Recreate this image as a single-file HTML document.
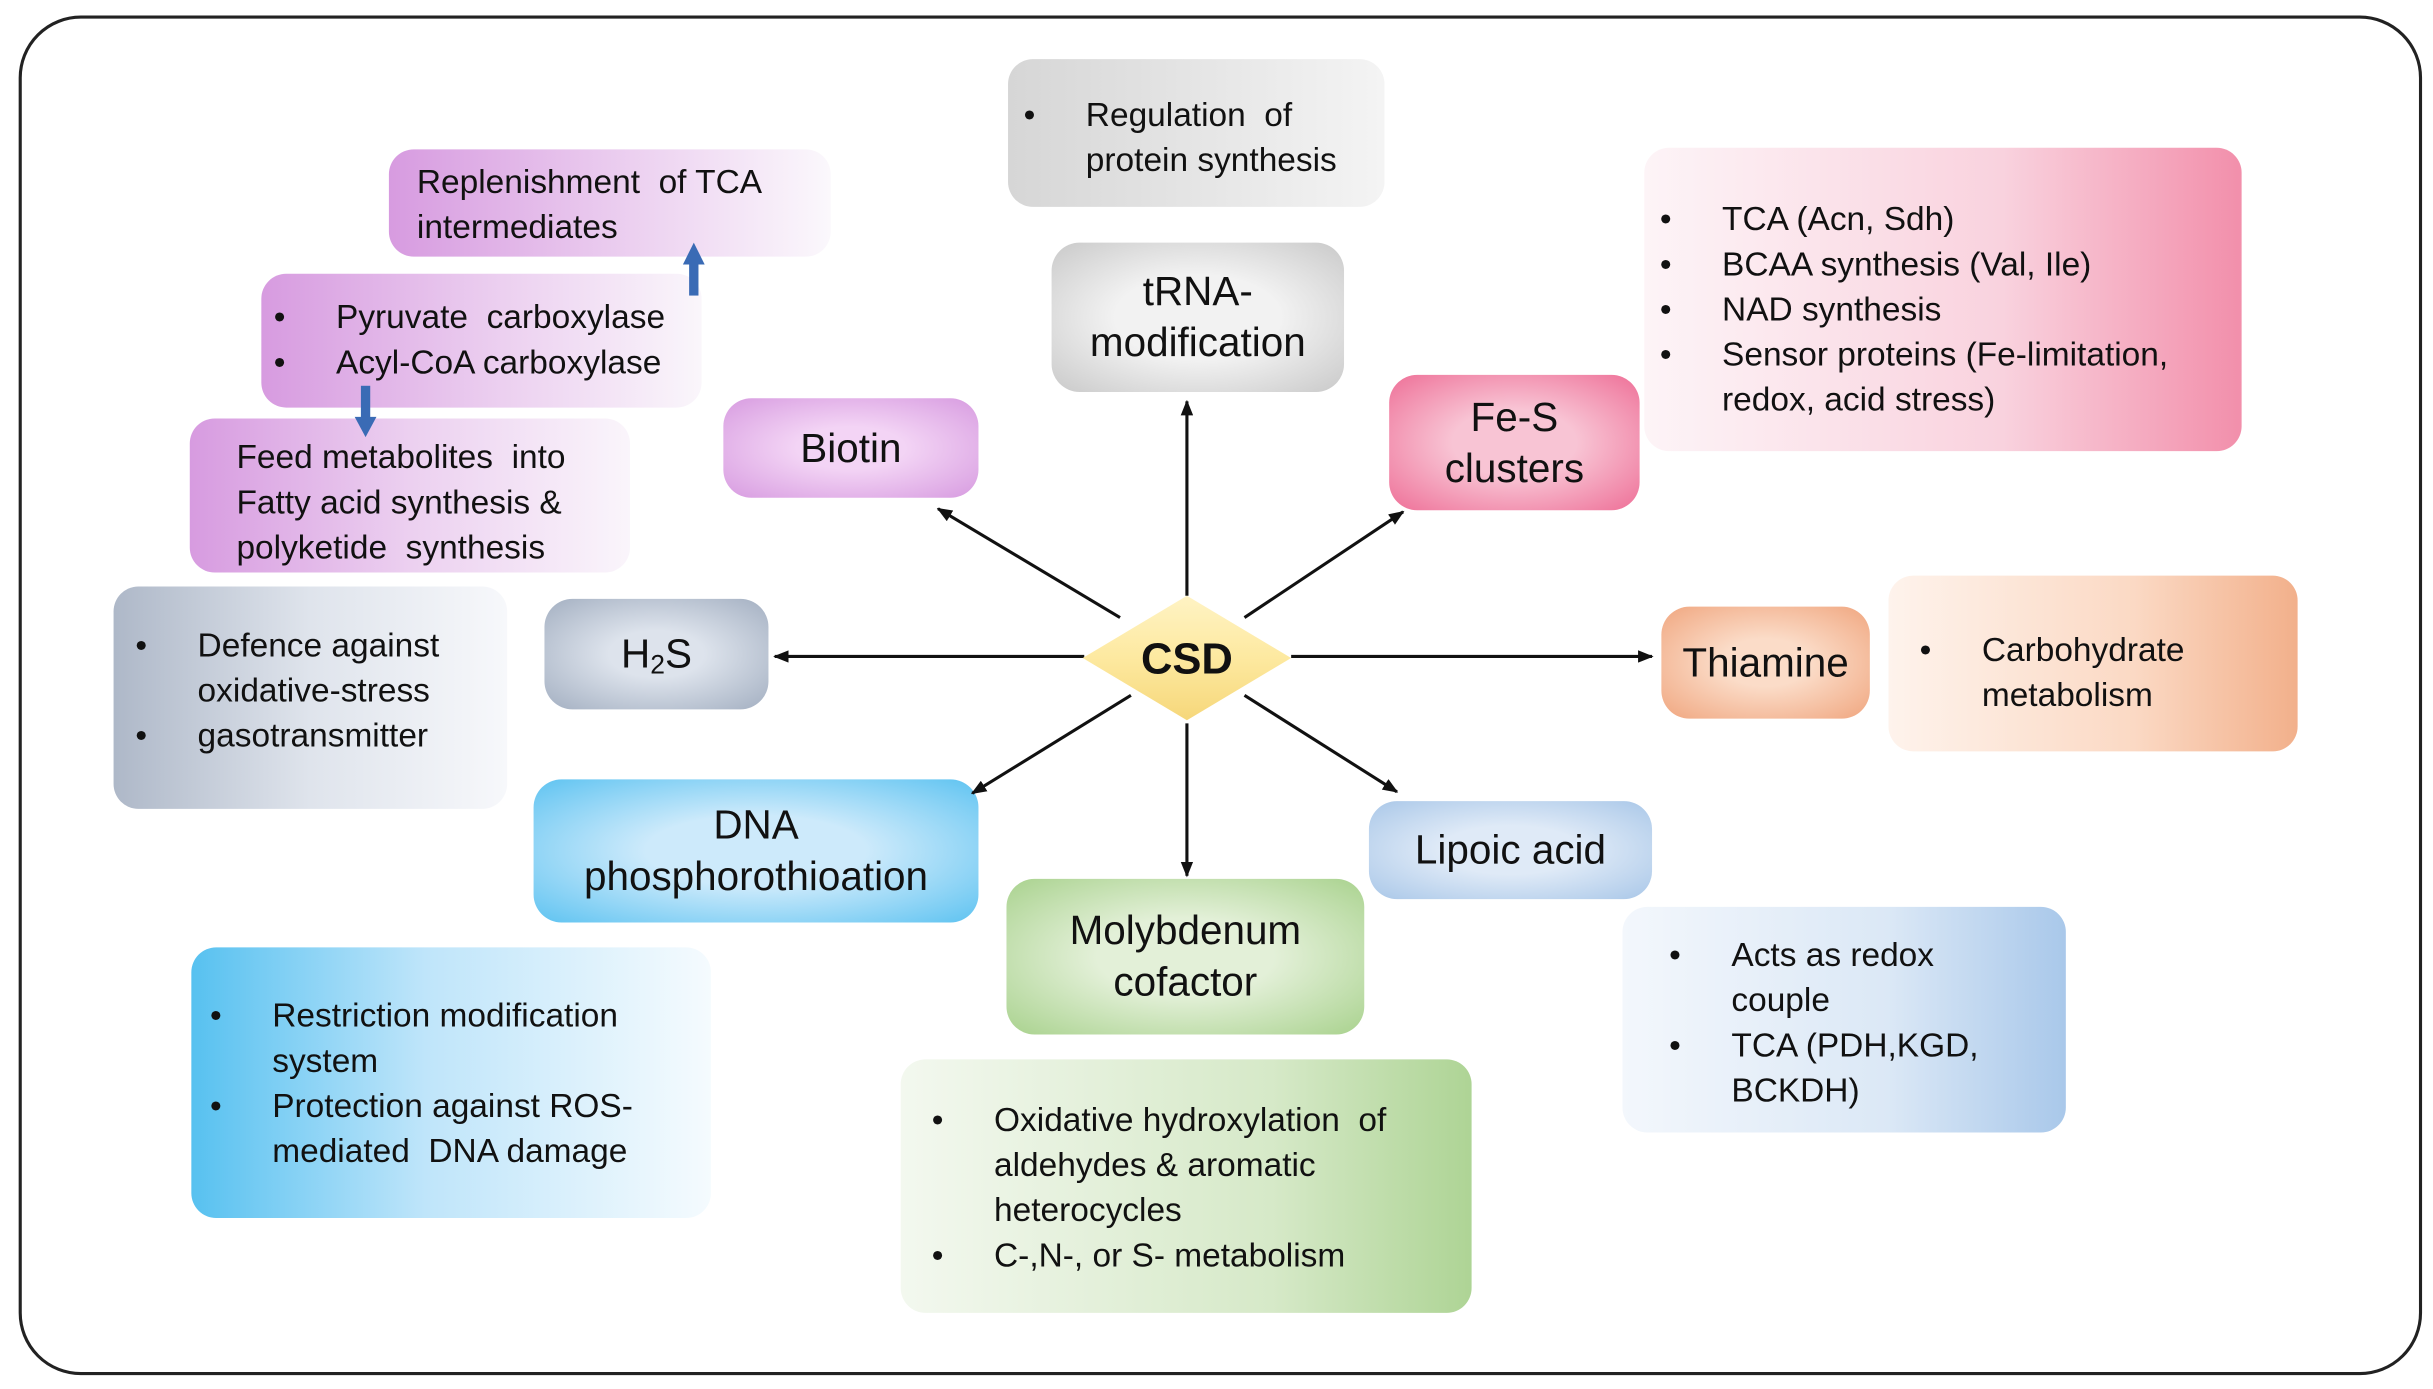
<!DOCTYPE html>
<html><head><meta charset="utf-8"><style>
html,body{margin:0;padding:0;background:#fff;width:2433px;height:1389px;overflow:hidden}
#s{position:absolute;left:0;top:0;width:1564px;height:893px;transform:scale(1.5556);transform-origin:0 0;font-family:"Liberation Sans",Arial,sans-serif;color:#111}
.b{position:absolute;box-sizing:border-box;border-radius:16px;font-size:21.5px;line-height:29px}
.n{display:flex;align-items:center;justify-content:center;text-align:center;font-size:26px;line-height:33px;border-radius:18px}
ul{margin:0;padding:0;list-style:none}
li{position:relative;padding-left:40px}
li:before{content:"•";position:absolute;left:0}
.sub{font-size:17px;position:relative;top:7px}
</style></head><body><div id="s">
<div style="position:absolute;left:12px;top:10px;width:1545px;height:874px;border:2px solid #222;border-radius:40px;box-sizing:border-box"></div>

<div class="b" style="left:648px;top:38px;width:242px;height:95px;background:linear-gradient(90deg,#d6d6d6,#f4f4f4);padding:22px 10px 0 10px"><ul><li>Regulation&nbsp; of<br>protein synthesis</li></ul></div>
<div class="b n" style="left:676px;top:156px;width:188px;height:96px;background:radial-gradient(ellipse at center,#f2f2f2 40%,#c9c9c9 100%)">tRNA-<br>modification</div>

<div class="b n" style="left:893px;top:241px;width:161px;height:87px;background:radial-gradient(ellipse at center,#f8c4d4 35%,#ee6f97 100%)">Fe-S<br>clusters</div>
<div class="b" style="left:1057px;top:95px;width:384px;height:195px;background:linear-gradient(90deg,#fdf4f7,#f9d2de 60%,#f28fab);padding:32px 10px 0 10px"><ul><li>TCA (Acn, Sdh)</li><li>BCAA synthesis (Val, Ile)</li><li>NAD synthesis</li><li>Sensor proteins (Fe-limitation, redox, acid stress)</li></ul></div>

<div class="b n" style="left:1068px;top:390px;width:134px;height:72px;background:radial-gradient(ellipse at center,#fbdcc8 30%,#f0a67f 100%)">Thiamine</div>
<div class="b" style="left:1214px;top:370px;width:263px;height:113px;background:linear-gradient(90deg,#fef3ec,#fbd9c4 60%,#f2b08b);padding:34px 10px 0 20px"><ul><li>Carbohydrate metabolism</li></ul></div>

<div class="b n" style="left:880px;top:515px;width:182px;height:63px;background:radial-gradient(ellipse at center,#dfeaf7 35%,#a9c7e8 100%)">Lipoic acid</div>
<div class="b" style="left:1043px;top:583px;width:285px;height:145px;background:linear-gradient(90deg,#f3f7fc,#dbe8f6 60%,#a9c8ea);padding:17px 10px 0 30px;white-space:nowrap"><ul><li>Acts as redox<br>couple</li><li>TCA (PDH,KGD,<br>BCKDH)</li></ul></div>

<div class="b n" style="left:647px;top:565px;width:230px;height:100px;background:radial-gradient(ellipse at center,#e3f0d8 35%,#a9d28e 100%)">Molybdenum<br>cofactor</div>
<div class="b" style="left:579px;top:681px;width:367px;height:163px;background:linear-gradient(90deg,#f3f8ef,#d6e9c8 65%,#aed495);padding:25px 10px 0 20px"><ul><li>Oxidative hydroxylation&nbsp; of aldehydes &amp; aromatic heterocycles</li><li>C-,N-, or S- metabolism</li></ul></div>

<div class="b n" style="left:343px;top:501px;width:286px;height:92px;background:radial-gradient(ellipse at center,#cdeafb 35%,#5ec3f1 100%)">DNA<br>phosphorothioation</div>
<div class="b" style="left:123px;top:609px;width:334px;height:174px;background:linear-gradient(90deg,#57c1f0,#bfe5fa 45%,#f5fbfe);padding:30px 10px 0 12px"><ul><li>Restriction modification system</li><li>Protection against ROS-mediated&nbsp; DNA damage</li></ul></div>

<div class="b n" style="left:350px;top:385px;width:144px;height:71px;background:radial-gradient(ellipse at center,#dde3ec 30%,#a3afc1 100%)">H<span class="sub">2</span>S</div>
<div class="b" style="left:73px;top:377px;width:253px;height:143px;background:linear-gradient(90deg,#aeb8c8,#dfe4ec 50%,#f7f8fb);padding:24px 10px 0 14px"><ul><li>Defence against oxidative-stress</li><li>gasotransmitter</li></ul></div>

<div class="b n" style="left:465px;top:256px;width:164px;height:64px;background:radial-gradient(ellipse at center,#f3d4f5 30%,#d79be0 100%)">Biotin</div>
<div class="b" style="left:122px;top:269px;width:283px;height:99px;background:linear-gradient(90deg,#d79be0,#ecd0f0 50%,#faf5fb);padding:11px 10px 0 30px">Feed metabolites&nbsp; into Fatty acid synthesis &amp; polyketide&nbsp; synthesis</div>
<div class="b" style="left:168px;top:176px;width:283px;height:86px;background:linear-gradient(90deg,#d79be0,#ecd0f0 55%,#faf6fb);padding:14px 4px 0 8px"><ul><li>Pyruvate&nbsp; carboxylase</li><li>Acyl-CoA carboxylase</li></ul></div>
<div class="b" style="left:250px;top:96px;width:284px;height:69px;background:linear-gradient(90deg,#d79be0,#ecd0f0 55%,#fbf8fc);padding:7px 6px 0 18px">Replenishment&nbsp; of TCA intermediates</div>

<svg style="position:absolute;left:0;top:0" width="1564" height="893">
<defs><marker id="a" markerWidth="10" markerHeight="8" refX="9" refY="4" orient="auto" markerUnits="userSpaceOnUse"><path d="M0,0 L10,4 L0,8z" fill="#111"/></marker>
<linearGradient id="g" x1="0" y1="0" x2="0" y2="1"><stop offset="0" stop-color="#fff3c4"/><stop offset="0.5" stop-color="#fde9a0"/><stop offset="1" stop-color="#f6d77a"/></linearGradient></defs>
<g stroke="#111" stroke-width="2" marker-end="url(#a)">
<line x1="763" y1="383" x2="763" y2="258"/>
<line x1="720" y1="397" x2="603" y2="327"/>
<line x1="800" y1="397" x2="902" y2="329"/>
<line x1="697" y1="422" x2="498" y2="422"/>
<line x1="830" y1="422" x2="1062" y2="422"/>
<line x1="727" y1="447" x2="625" y2="510"/>
<line x1="763" y1="465" x2="763" y2="563"/>
<line x1="800" y1="447" x2="898" y2="509"/>
</g>
<polygon points="763,383 830,423 763,463 696,423" fill="url(#g)"/>
<text x="763" y="433" text-anchor="middle" font-family="Liberation Sans, Arial, sans-serif" font-weight="bold" font-size="28" fill="#111">CSD</text>
<g fill="#3a6bb5"><rect x="443" y="168" width="6" height="22"/><path d="M439,170 L446,156 L453,170z"/>
<rect x="232" y="248" width="6" height="22"/><path d="M228,268 L235,281 L242,268z"/></g>
</svg>
</div></body></html>
